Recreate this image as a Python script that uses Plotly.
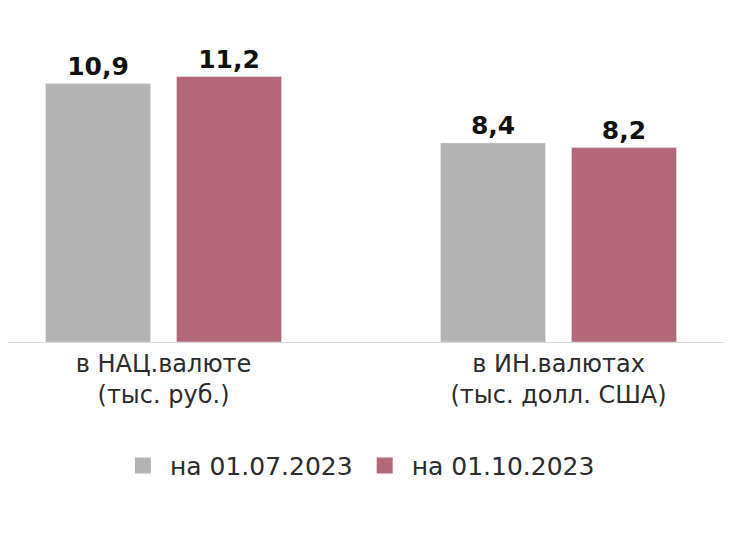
import plotly.graph_objects as go

categories = ["в НАЦ.валюте<br>(тыс. руб.)", "в ИН.валютах<br>(тыс. долл. США)"]
series_names = ["на 01.07.2023", "на 01.10.2023"]
values_jul = [10.9, 8.4]
values_oct = [11.2, 8.2]
labels_jul = ["10,9", "8,4"]
labels_oct = ["11,2", "8,2"]
colors = ["#b3b3b3", "#b5677a"]

fig = go.Figure()
for name, vals, labs, col in [
    (series_names[0], values_jul, labels_jul, colors[0]),
    (series_names[1], values_oct, labels_oct, colors[1]),
]:
    fig.add_trace(go.Bar(
        x=categories, y=vals, name=name, marker_color=col,
        text=labs, textposition="outside", cliponaxis=False,
        textfont=dict(family="DejaVu Sans", size=25, color="#111111", weight="bold"),
        showlegend=False,
    ))
    fig.add_trace(go.Scatter(
        x=[None], y=[None], mode="markers", name=name,
        marker=dict(symbol="square", size=22, color=col),
    ))

fig.update_layout(
    width=732, height=544,
    margin=dict(l=0, r=0, t=32, b=210),
    plot_bgcolor="white", paper_bgcolor="white",
    barmode="group", bargap=0.337, bargroupgap=0.198,
    font=dict(family="DejaVu Sans", size=24, color="#2b2b2b"),
    xaxis=dict(range=[-0.3937, 1.4595], showline=True, linecolor="#d9d9d9",
               linewidth=1, showgrid=False, ticks="", ticklabelstandoff=0),
    yaxis=dict(visible=False, range=[0, 12.74]),
    legend=dict(orientation="h", x=0.478, xanchor="center", y=-0.41, yanchor="middle",
                font=dict(size=25, color="#2b2b2b"), itemsizing="trace",
                itemwidth=44),
)

fig.write_html("out.html")
